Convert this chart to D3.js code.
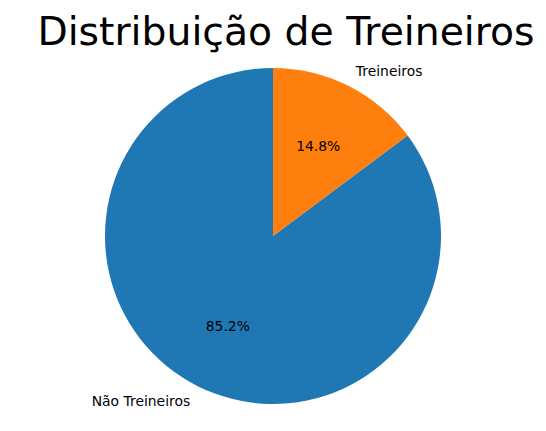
<!DOCTYPE html>
<html>
<head>
<meta charset="utf-8">
<script src="https://cdn.jsdelivr.net/npm/d3@7"></script>
<style>
  body { margin: 0; background: #fff; }
  text { font-family: "DejaVu Sans", sans-serif; fill: #000; }
</style>
</head>
<body>
<svg class="chart"></svg>
<script>
var categories = ["Não Treineiros", "Treineiros"];
var values = [85.2, 14.8];
var colors = ["#1f77b4", "#ff7f0e"];

var width = 546, height = 431;
var cx = 273, cy = 236, radius = 168;

var svg = d3.select(".chart").attr("width", width).attr("height", height);

// title
svg.append("text")
   .attr("x", 286)
   .attr("y", 45)
   .attr("text-anchor", "middle")
   .style("font-size", "39.3px")
   .text("Distribuição de Treineiros");

var chart = svg.append("g").attr("transform", "translate(" + cx + "," + cy + ")");

// counterclockwise from the top, like matplotlib startangle=90
var pie = d3.pie().sort(null).startAngle(0).endAngle(-2 * Math.PI)
            .value(function(d, i) { return values[i]; });
var slices = pie(categories);

var arc = d3.arc().innerRadius(0).outerRadius(radius);
var labelArc = d3.arc().innerRadius(radius * 1.1).outerRadius(radius * 1.1);
var pctArc = d3.arc().innerRadius(radius * 0.6).outerRadius(radius * 0.6);

chart.selectAll("path.slice").data(slices).enter().append("path")
     .attr("class", "slice")
     .attr("d", arc)
     .attr("fill", function(d, i) { return colors[i]; });

chart.selectAll("text.label").data(slices).enter().append("text")
     .attr("class", "label")
     .attr("x", function(d) { return labelArc.centroid(d)[0]; })
     .attr("y", function(d) { return labelArc.centroid(d)[1]; })
     .attr("dy", "0.35em")
     .attr("text-anchor", function(d) { return labelArc.centroid(d)[0] > 0 ? "start" : "end"; })
     .style("font-size", "13.9px")
     .text(function(d) { return d.data; });

chart.selectAll("text.pct").data(slices).enter().append("text")
     .attr("class", "pct")
     .attr("x", function(d) { return pctArc.centroid(d)[0]; })
     .attr("y", function(d) { return pctArc.centroid(d)[1]; })
     .attr("dy", "0.35em")
     .attr("text-anchor", "middle")
     .style("font-size", "13.9px")
     .text(function(d, i) { return values[i].toFixed(1) + "%"; });
</script>
</body>
</html>
